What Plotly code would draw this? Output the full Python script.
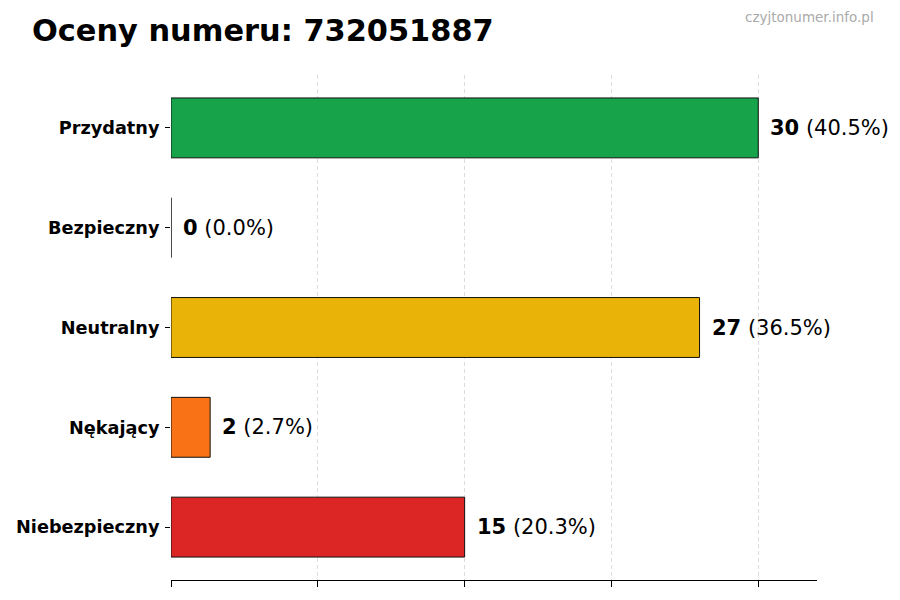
import plotly.graph_objects as go

categories = ["Przydatny", "Bezpieczny", "Neutralny", "Nękający", "Niebezpieczny"]
values = [30, 0, 27, 2, 15]
colors = ["#16a34a", "#3b82f6", "#eab308", "#f97316", "#dc2626"]
title_text = "Oceny numeru: 732051887"
watermark = "czyjtonumer.info.pl"
grid_ticks = [0, 7.5, 15, 22.5, 30]

total = sum(values)
font = "DejaVu Sans"

W, H = 900, 600
ML, MR, MT, MB = 171, 83, 75, 20
PW, PH = W - ML - MR, H - MT - MB


def px_x(px):
    return (px - ML) / PW


def px_y(py):
    return (H - MB - py) / PH


fig = go.Figure()
fig.add_trace(go.Bar(
    x=values, y=categories, orientation="h",
    width=0.6,
    marker=dict(color=colors, line=dict(color="#111111", width=1)),
    hoverinfo="skip",
))

for cat, v in zip(categories, values):
    pct = v / total * 100
    fig.add_annotation(
        x=v, y=cat, xref="x", yref="y",
        text=f"<b>{v}</b> ({pct:.1f}%)",
        showarrow=False, xanchor="left", yanchor="middle",
        xshift=10, font=dict(family=font, size=21, color="#000000"),
    )

fig.add_annotation(
    x=px_x(30), y=px_y(31), xref="paper", yref="paper",
    text=f"<b>{title_text}</b>", showarrow=False,
    xanchor="left", yanchor="middle",
    font=dict(family=font, size=30.4, color="#000000"),
)
fig.add_annotation(
    x=px_x(876), y=px_y(17), xref="paper", yref="paper",
    text=watermark, showarrow=False,
    xanchor="right", yanchor="middle",
    font=dict(family=font, size=13.5, color="#aaaaaa"),
)

fig.update_layout(
    width=W, height=H,
    margin=dict(l=ML, r=MR, t=MT, b=MB, autoexpand=False),
    paper_bgcolor="white", plot_bgcolor="white",
    showlegend=False,
    xaxis=dict(
        domain=[0, 1],
        range=[0, 33],
        tickmode="array", tickvals=grid_ticks, showticklabels=False,
        ticks="outside", ticklen=6, tickcolor="#000000",
        showgrid=True, gridcolor="#dddddd", griddash="4px,3px", gridwidth=1,
        showline=True, linecolor="#000000", linewidth=1.2,
        zeroline=False, layer="above traces", fixedrange=True,
    ),
    yaxis=dict(
        categoryorder="array", categoryarray=categories[::-1],
        range=[-0.53, 4.53],
        ticks="outside", ticklen=5, tickcolor="#000000",
        ticklabelstandoff=2,
        showgrid=False, showline=False, zeroline=False,
        tickfont=dict(family=font, size=17.7, color="#000000", weight="bold"),
        fixedrange=True,
    ),
)

fig.write_html(
    "out.html",
    config={"displayModeBar": False},
    post_script="document.body.style.margin='0';",
)
